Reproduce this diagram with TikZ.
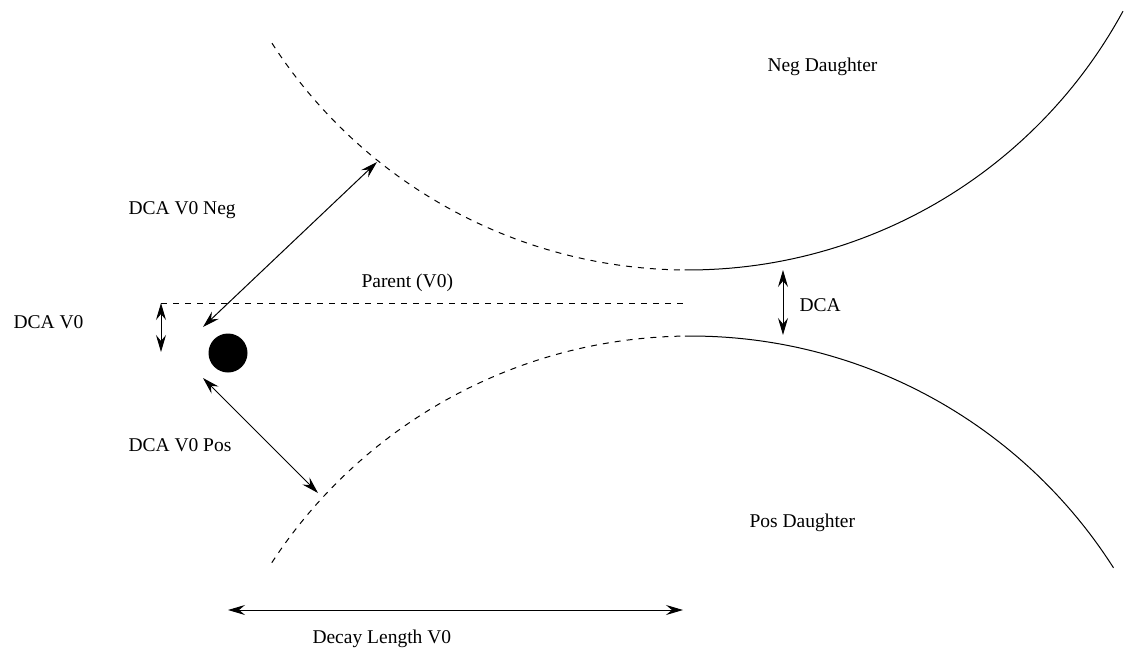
\documentclass[tikz,border=0pt]{standalone}
\usepackage{fontspec}
\setmainfont{Liberation Serif}
\usetikzlibrary{arrows.meta}

\begin{document}
\begin{tikzpicture}[x=1pt, y=-1pt, line width=1pt,
    lbl/.style = {anchor=base west, inner sep=0pt, font=\fontsize{19.5}{23}\selectfont},
    dimarrow/.style = {{Stealth[length=17pt,width=10pt,inset=6pt]}-{Stealth[length=17pt,width=10pt,inset=6pt]}},
    track/.style = {dash pattern=on 6pt off 6pt}]
    \useasboundingbox (0,0) rectangle (1125,653);
    % daughter tracks
    \draw[track] plot[domain=147.2:90.4, samples=60] ({688+495*cos(\x)}, {-225+495*sin(\x)});
    \draw plot[domain=90.4:28.5, samples=60] ({688+495*cos(\x)}, {-225+495*sin(\x)});
    \draw[track] plot[domain=-146.8:-90.7, samples=60] ({691+501*cos(\x)}, {837+501*sin(\x)});
    \draw plot[domain=-90.7:-32.5, samples=60] ({691+501*cos(\x)}, {837+501*sin(\x)});
    % primary vertex
    \node[fill, circle, minimum size=39pt, inner sep=0pt] (pv) at (228,353) {};
    % end points
    \coordinate (negtrk) at (377,162);
    \coordinate (negpv) at (203,327);
    \coordinate (pospv) at (203,378);
    \coordinate (postrk) at (318,493);
    \coordinate (ptop) at (161,303);
    \coordinate (pbot) at (161,352);
    \coordinate (pend) at (685,303);
    \coordinate (dtop) at (783,270);
    \coordinate (dbot) at (783,335);
    \coordinate (lstart) at (228,610);
    \coordinate (lend) at (683,610);
    % parent
    \draw[track] (ptop) -- (pend);
    \draw[dimarrow] (negpv) -- (negtrk);
    \draw[dimarrow] (pospv) -- (postrk);
    \draw[dimarrow] (ptop) -- (pbot);
    \draw[dimarrow] (dtop) -- (dbot);
    \draw[dimarrow] (lstart) -- (lend);
    % labels
    \node[lbl] (negd) at (767,71) {Neg Daughter};
    \node[lbl] (posd) at (749,527) {Pos Daughter};
    \node[lbl] (dcaneg) at (128,214) {DCA V0 Neg};
    \node[lbl] (dcapos) at (128,451) {DCA V0 Pos};
    \node[lbl] (dcav0) at (13,328) {DCA V0};
    \node[lbl] (dca) at (799,311) {DCA};
    \node[lbl] (parent) at (361,287) {Parent (V0)};
    \node[lbl] (declen) at (312,643) {Decay Length V0};
  \end{tikzpicture}
\end{document}
